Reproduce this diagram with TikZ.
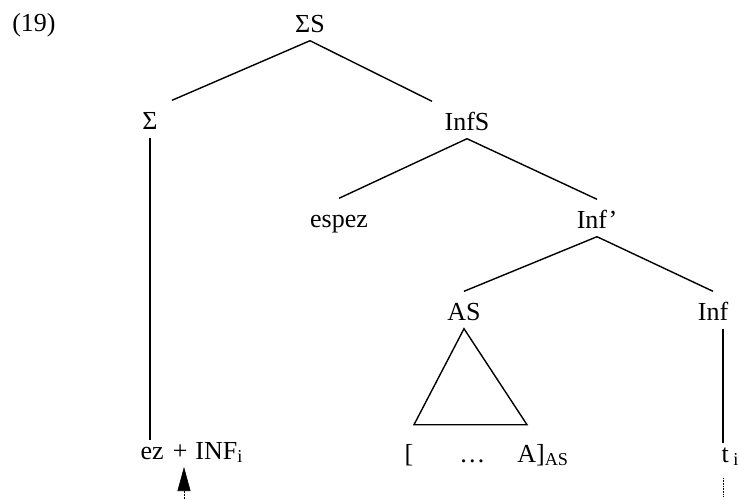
\documentclass[tikz,border=0pt]{standalone}
\usepackage{fontspec}
\setmainfont{Liberation Serif}
\usepackage{tikz}
\usetikzlibrary{arrows.meta}

\tikzset{
  lab/.style={anchor=base,inner xsep=3pt,inner ysep=3pt,text height=25pt,text depth=5pt},
  leaf/.style={anchor=base west,inner xsep=3pt,inner ysep=3pt,text height=15pt,text depth=5pt}
}

\begin{document}
\begin{tikzpicture}[x=1pt,y=-1pt,>=Stealth,line width=1.4pt,
  every node/.style={font=\fontsize{26}{30}\selectfont}]
\useasboundingbox (0,0) rectangle (740,499);
% labels
\node[anchor=base] (num) at (34,31) {(19)};
\node[lab] (sigS) at (310,32) {ΣS};
\node[lab] (sig) at (150,129) {Σ};
\node[lab] (infS) at (467,130) {InfS};
\node[lab] (espez) at (339,227) {espez};
\node[lab] (infbar) at (597,228) {Inf’};
\node[lab] (as) at (464,320) {AS};
\node[lab] (inf) at (713,320) {Inf};
\node[leaf] (ezinf) at (137,459) {ez\hspace{9pt}+\hspace{8pt}INF\textsubscript{i}};
\node[leaf] (bracket) at (401,462) {[\hspace{46pt}\textellipsis\hspace{32pt}A]\textsubscript{AS}};
\node[leaf] (trace) at (718,462) {t\,\textsubscript{i}};
\coordinate (arrtip) at (184,467);
\coordinate (arrfoot) at (184,499);
\coordinate (tdot) at (723,478);
\coordinate (tfoot) at (723,497);
% branches
\draw (sigS.south) -- ([xshift=22pt]sig.north);
\draw (sigS.south) -- ([xshift=-35pt]infS.north);
\draw (infS.south) -- (espez.north);
\draw (infS.south) -- (infbar.north);
\draw (infbar.south) -- (as.north);
\draw (infbar.south) -- (inf.north);
\draw (sig.south) -- (sig.south |- ezinf.north);
\draw ([xshift=5pt]trace.north west |- inf.south) -- ([xshift=5pt]trace.north west);
\draw (as.south) -- ++(-50,96) -- ++(113,0) -- cycle;
% movement
\draw[densely dotted,line width=0.6pt,-{Triangle[length=24pt,width=13pt]}] (arrfoot) -- (arrtip);
\draw[densely dotted,line width=0.6pt] (tdot) -- (tfoot);
\end{tikzpicture}
\end{document}
